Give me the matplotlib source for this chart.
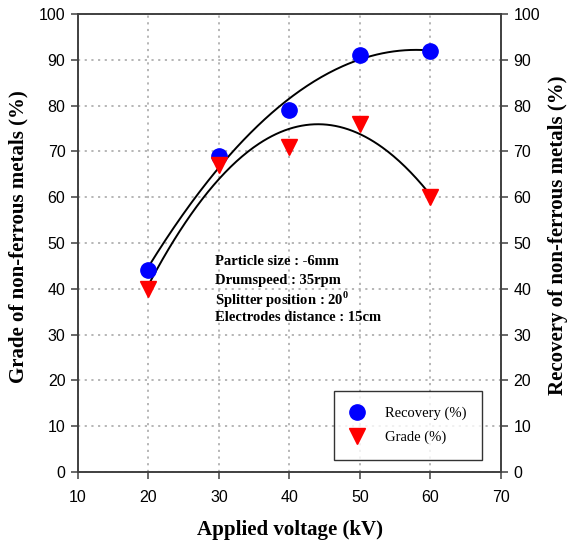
import numpy as np
import matplotlib
matplotlib.use("Agg")
import matplotlib.pyplot as plt

plt.rcParams["mathtext.fontset"] = "custom"
plt.rcParams["mathtext.rm"] = "Liberation Serif:bold"
plt.rcParams["mathtext.bf"] = "Liberation Serif:bold"

voltage = [20, 30, 40, 50, 60]
recovery = [44, 69, 79, 91, 92]
grade = [40, 67, 71, 76, 60]
x_ticks = [10, 20, 30, 40, 50, 60, 70]
y_ticks = [0, 10, 20, 30, 40, 50, 60, 70, 80, 90, 100]
notes = ["Particle size : -6mm", "Drumspeed : 35rpm",
         "Splitter position : 20$^{0}$", "Electrodes distance : 15cm"]

W, H = 571, 547
fig = plt.figure(figsize=(W / 100, H / 100), dpi=100)
ax = fig.add_axes([78 / W, 75 / H, (501 - 78) / W, (472 - 14) / H])

label_font = dict(family="Liberation Serif", size=15, weight="bold")

ax.set_xlim(10, 70)
ax.set_ylim(0, 100)
ax.set_xticks(x_ticks)
ax.set_yticks(y_ticks)
ax.grid(True, linestyle=(0, (1.2, 2.5)), color="#b0b0b0", linewidth=1.3)
ax.set_axisbelow(True)

# trend lines (2nd order polynomial fits)
xs = np.linspace(min(voltage), max(voltage), 200)
pr = np.polyfit(voltage, recovery, 2)
pg = np.polyfit(voltage, grade, 2)
ax.plot(xs, np.polyval(pr, xs), color="black", linewidth=1.4, zorder=2)
ax.plot(xs, np.polyval(pg, xs), color="black", linewidth=1.4, zorder=2)

ax.plot(voltage, recovery, linestyle="none", marker="o", markersize=11,
        color="#0000ff", label="Recovery (%)", zorder=3)
ax.plot(voltage, grade, linestyle="none", marker="v", markersize=11,
        color="#ff0000", label="Grade (%)", zorder=3)

for s in ax.spines.values():
    s.set_color("#404040")
    s.set_linewidth(1.2)

ax.tick_params(axis="both", direction="out", length=5, width=1.1, color="#404040",
               labelsize=11.5, pad=4)
ax.tick_params(axis="x", pad=8)
for lab in ax.get_xticklabels() + ax.get_yticklabels():
    lab.set_family("Liberation Sans")

ax2 = ax.twinx()
ax2.set_ylim(0, 100)
ax2.set_yticks(y_ticks)
ax2.tick_params(axis="y", direction="out", length=5, width=1.1, color="#404040",
                labelsize=11.5, pad=4)
for lab in ax2.get_yticklabels():
    lab.set_family("Liberation Sans")
for s in ax2.spines.values():
    s.set_color("#404040")
    s.set_linewidth(1.2)

fig.text(290 / W, 1 - 530 / H, "Applied voltage (kV)", fontdict=label_font,
         ha="center", va="center")
fig.text(18 / W, 1 - 237 / H, "Grade of non-ferrous metals (%)", fontdict=label_font,
         ha="center", va="center", rotation=90)
fig.text(558 / W, 1 - 235 / H, "Recovery of non-ferrous metals (%)", fontdict=label_font,
         ha="center", va="center", rotation=90)

for i, line in enumerate(notes):
    ax.text(29.4, 46.3 - i * 4.1, line, family="Liberation Serif", weight="bold",
            fontsize=10.5, va="center_baseline", ha="left")

leg = ax.legend(loc="lower right", bbox_to_anchor=(0.956, 0.026),
                prop=dict(family="Liberation Serif", size=10.5), frameon=True,
                fancybox=False, edgecolor="black", borderpad=1.1, labelspacing=0.7,
                handlelength=1.0, handletextpad=1.4, borderaxespad=0)
leg.get_frame().set_linewidth(1.0)

fig.savefig("out.png", dpi=100)
